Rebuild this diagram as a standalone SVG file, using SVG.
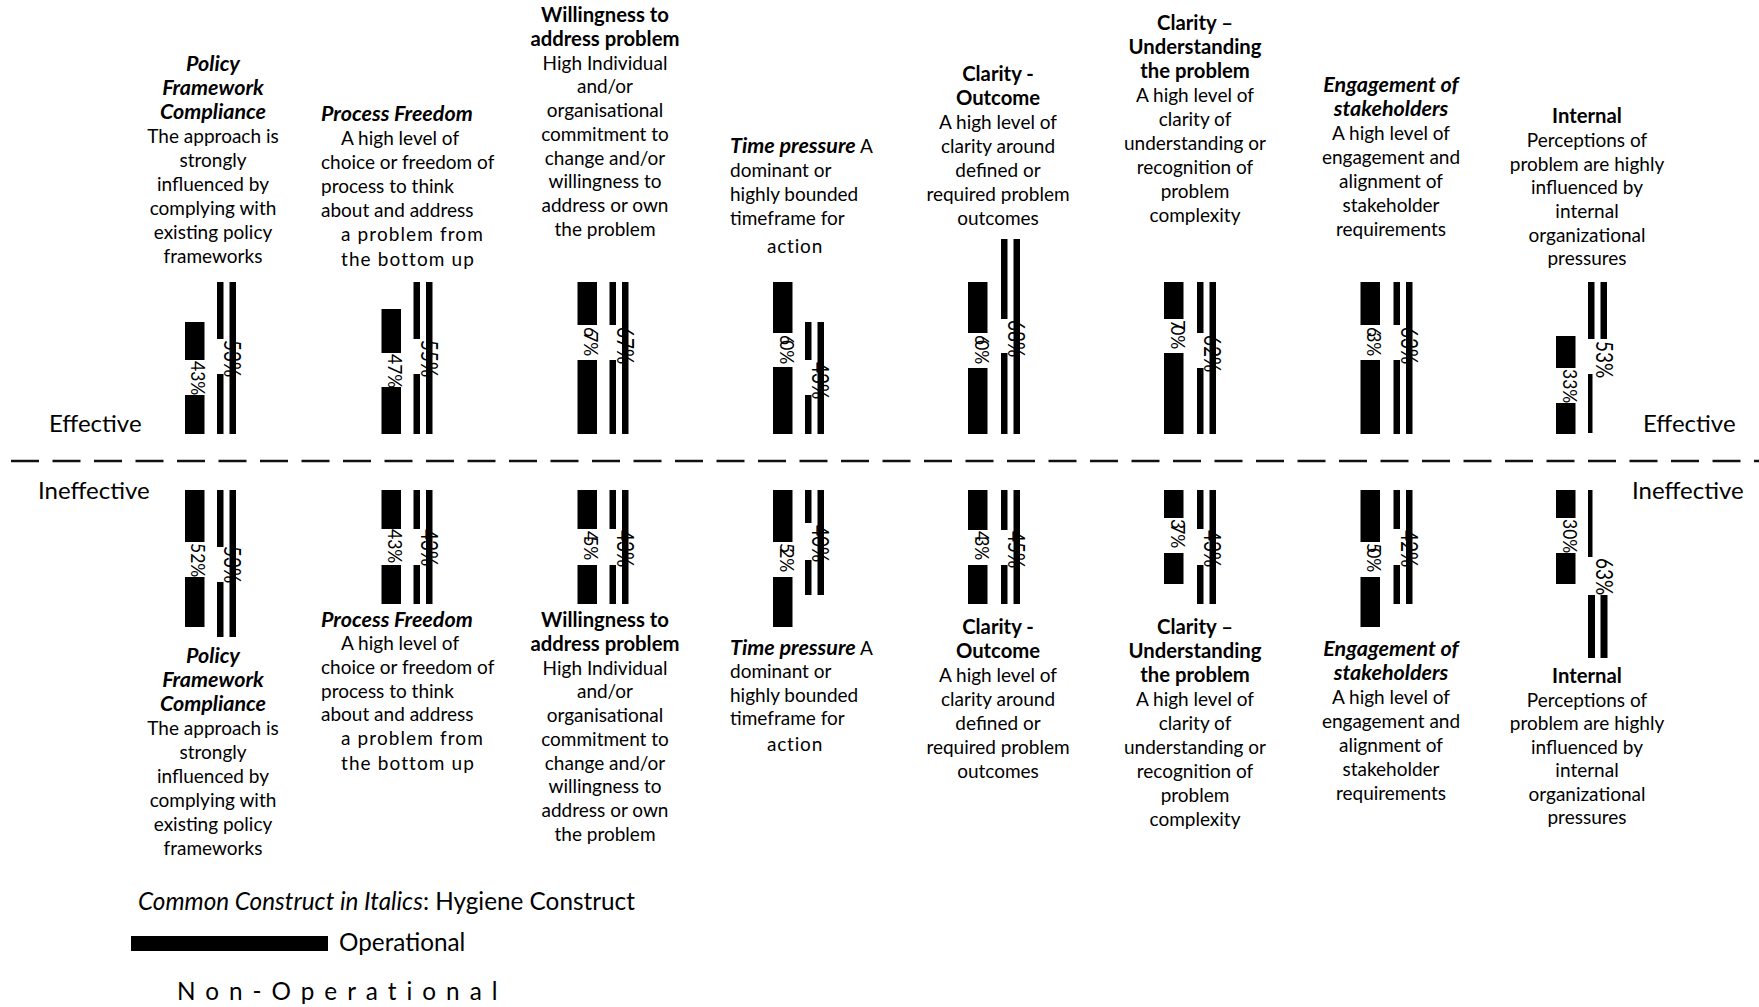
<svg xmlns="http://www.w3.org/2000/svg" width="1759" height="1007" viewBox="0 0 1759 1007">
  <style>
    .t { font-family: Lato, "Liberation Sans", sans-serif; font-size: 19px; fill: #000; }
    .c { text-anchor: middle; }
    .b { font-weight: 700; font-size: 20.3px; }
    .bi { font-weight: 700; font-style: italic; font-size: 21.5px; }
    .i { font-style: italic; }
    .sp { letter-spacing: 1.1px; }
    .sp2 { letter-spacing: 0.8px; }
    .pct { font-family: Lato, "Liberation Sans", sans-serif; font-size: 17.5px; fill: #000; }
    .pt { font-family: Lato, "Liberation Sans", sans-serif; font-size: 19px; fill: #000; }
    .side { font-family: Lato, "Liberation Sans", sans-serif; font-size: 24px; fill: #000; }
    .leg { font-family: Lato, "Liberation Sans", sans-serif; font-size: 24.3px; fill: #000; }
    rect { fill: #000; }
    .divider { stroke: #111; stroke-width: 2.6; stroke-dasharray: 28 13.5; fill: none; }
  </style>

  <!-- divider between effective and ineffective halves -->
  <g id="connectors">
    <line class="divider" x1="11" y1="461" x2="1759" y2="461"/>
  </g>

  <!-- side labels -->
  <g id="side-labels">
    <text class="side" x="49" y="432">Effective</text>
    <text class="side" x="38" y="499">Ineffective</text>
    <text class="side" x="1643" y="432">Effective</text>
    <text class="side" x="1632" y="499">Ineffective</text>
  </g>

  <!-- ===== Column 1: Policy Framework Compliance ===== -->
  <g id="eff-policy">
    <text class="t c bi" x="213" y="71">Policy</text>
    <text class="t c bi" x="213" y="95">Framework</text>
    <text class="t c bi" x="213" y="119">Compliance</text>
    <text class="t c" x="213" y="143">The approach is</text>
    <text class="t c" x="213" y="167">strongly</text>
    <text class="t c" x="213" y="191">influenced by</text>
    <text class="t c" x="213" y="215">complying with</text>
    <text class="t c" x="213" y="239">existing policy</text>
    <text class="t c" x="213" y="263">frameworks</text>
    <rect x="185" y="322" width="19.5" height="38"/>
    <rect x="185" y="395" width="19.5" height="39"/>
    <rect x="217" y="282" width="6.5" height="57"/>
    <rect x="217" y="374" width="6.5" height="60"/>
    <rect x="229.5" y="282" width="6.5" height="152"/>
    <text class="pct" transform="translate(191,361) rotate(90) scale(1,1.15)">43%</text>
    <text class="pt" transform="translate(224,340) rotate(90) scale(1,1.25)">53%</text>
  </g>
  <g id="ineff-policy">
    <rect x="185" y="490" width="19.5" height="52"/>
    <rect x="185" y="577" width="19.5" height="50"/>
    <rect x="217" y="490" width="6.5" height="57"/>
    <rect x="217" y="582" width="6.5" height="55"/>
    <rect x="229.5" y="490" width="6.5" height="147"/>
    <text class="pct" transform="translate(191,543) rotate(90) scale(1,1.15)">52%</text>
    <text class="pt" transform="translate(224,546) rotate(90) scale(1,1.25)">53%</text>
    <text class="t c bi" x="213" y="663">Policy</text>
    <text class="t c bi" x="213" y="687">Framework</text>
    <text class="t c bi" x="213" y="711">Compliance</text>
    <text class="t c" x="213" y="735">The approach is</text>
    <text class="t c" x="213" y="759">strongly</text>
    <text class="t c" x="213" y="783">influenced by</text>
    <text class="t c" x="213" y="807">complying with</text>
    <text class="t c" x="213" y="831">existing policy</text>
    <text class="t c" x="213" y="855">frameworks</text>
  </g>

  <!-- ===== Column 2: Process Freedom ===== -->
  <g id="eff-process">
    <text class="t bi" x="321" y="121">Process Freedom</text>
    <text class="t" x="341" y="145">A high level of</text>
    <text class="t" x="321" y="169">choice or freedom of</text>
    <text class="t" x="321" y="193">process to think</text>
    <text class="t" x="321" y="217">about and address</text>
    <text class="t sp" x="341" y="241">a problem from</text>
    <text class="t sp" x="341" y="266">the bottom up</text>
    <rect x="381.5" y="309" width="19.5" height="44"/>
    <rect x="381.5" y="387" width="19.5" height="47"/>
    <rect x="413.5" y="282" width="6.5" height="57"/>
    <rect x="413.5" y="374" width="6.5" height="60"/>
    <rect x="426" y="282" width="6.5" height="152"/>
    <text class="pct" transform="translate(387.5,354) rotate(90) scale(1,1.15)">47%</text>
    <text class="pt" transform="translate(420.5,340) rotate(90) scale(1,1.25)">55%</text>
  </g>
  <g id="ineff-process">
    <rect x="381.5" y="490" width="19.5" height="39"/>
    <rect x="381.5" y="565" width="19.5" height="39"/>
    <rect x="413.5" y="490" width="6.5" height="39"/>
    <rect x="413.5" y="565" width="6.5" height="39"/>
    <rect x="426" y="490" width="6.5" height="114"/>
    <text class="pct" transform="translate(387.5,529) rotate(90) scale(1,1.15)">43%</text>
    <text class="pt" transform="translate(420.5,529) rotate(90) scale(1,1.25)">43%</text>
    <text class="t bi" x="321" y="627">Process Freedom</text>
    <text class="t" x="341" y="650">A high level of</text>
    <text class="t" x="321" y="674">choice or freedom of</text>
    <text class="t" x="321" y="698">process to think</text>
    <text class="t" x="321" y="721">about and address</text>
    <text class="t sp" x="341" y="745">a problem from</text>
    <text class="t sp" x="341" y="770">the bottom up</text>
  </g>

  <!-- ===== Column 3: Willingness to address problem ===== -->
  <g id="eff-willingness">
    <text class="t c b" x="605" y="22">Willingness to</text>
    <text class="t c b" x="605" y="46">address problem</text>
    <text class="t c" x="605" y="70">High Individual</text>
    <text class="t c" x="605" y="93">and/or</text>
    <text class="t c" x="605" y="117">organisational</text>
    <text class="t c" x="605" y="141">commitment to</text>
    <text class="t c" x="605" y="165">change and/or</text>
    <text class="t c" x="605" y="188">willingness to</text>
    <text class="t c" x="605" y="212">address or own</text>
    <text class="t c" x="605" y="236">the problem</text>
    <rect x="577.5" y="282" width="19.5" height="43"/>
    <rect x="577.5" y="360" width="19.5" height="74"/>
    <rect x="609.5" y="282" width="6.5" height="43"/>
    <rect x="609.5" y="360" width="6.5" height="74"/>
    <rect x="622" y="282" width="6.5" height="152"/>
    <text class="pct" transform="translate(584,327) rotate(90) scale(1,1.15)">6<tspan dx="-5">7</tspan>%</text>
    <text class="pt" transform="translate(616.5,327) rotate(90) scale(1,1.25)">67%</text>
  </g>
  <g id="ineff-willingness">
    <rect x="577.5" y="490" width="19.5" height="39"/>
    <rect x="577.5" y="565" width="19.5" height="39"/>
    <rect x="609.5" y="490" width="6.5" height="39"/>
    <rect x="609.5" y="565" width="6.5" height="39"/>
    <rect x="622" y="490" width="6.5" height="114"/>
    <text class="pct" transform="translate(584,531) rotate(90) scale(1,1.15)">4<tspan dx="-5">5</tspan>%</text>
    <text class="pt" transform="translate(616.5,530) rotate(90) scale(1,1.25)">43%</text>
    <text class="t c b" x="605" y="627">Willingness to</text>
    <text class="t c b" x="605" y="651">address problem</text>
    <text class="t c" x="605" y="675">High Individual</text>
    <text class="t c" x="605" y="698">and/or</text>
    <text class="t c" x="605" y="722">organisational</text>
    <text class="t c" x="605" y="746">commitment to</text>
    <text class="t c" x="605" y="770">change and/or</text>
    <text class="t c" x="605" y="793">willingness to</text>
    <text class="t c" x="605" y="817">address or own</text>
    <text class="t c" x="605" y="841">the problem</text>
  </g>

  <!-- ===== Column 4: Time pressure ===== -->
  <g id="eff-time">
    <text class="t" x="730" y="153"><tspan class="bi">Time pressure</tspan> A</text>
    <text class="t" x="730" y="177">dominant or</text>
    <text class="t" x="730" y="201">highly bounded</text>
    <text class="t" x="730" y="225">timeframe for</text>
    <text class="t c sp2" x="795" y="253">action</text>
    <rect x="773" y="282" width="19.5" height="51"/>
    <rect x="773" y="367" width="19.5" height="67"/>
    <rect x="805" y="322" width="6.5" height="38"/>
    <rect x="805" y="395" width="6.5" height="39"/>
    <rect x="817.5" y="322" width="6.5" height="112"/>
    <text class="pct" transform="translate(779.5,335) rotate(90) scale(1,1.15)">6<tspan dx="-5">0</tspan>%</text>
    <text class="pt" transform="translate(812,362) rotate(90) scale(1,1.25)">43%</text>
  </g>
  <g id="ineff-time">
    <rect x="773" y="490" width="19.5" height="52"/>
    <rect x="773" y="577" width="19.5" height="50"/>
    <rect x="805" y="490" width="6.5" height="33"/>
    <rect x="805" y="560" width="6.5" height="35"/>
    <rect x="817.5" y="490" width="6.5" height="105"/>
    <text class="pct" transform="translate(779.5,543) rotate(90) scale(1,1.15)">5<tspan dx="-5">2</tspan>%</text>
    <text class="pt" transform="translate(812,525) rotate(90) scale(1,1.25)">40%</text>
    <text class="t" x="730" y="655"><tspan class="bi">Time pressure</tspan> A</text>
    <text class="t" x="730" y="678">dominant or</text>
    <text class="t" x="730" y="702">highly bounded</text>
    <text class="t" x="730" y="725">timeframe for</text>
    <text class="t c sp2" x="795" y="751">action</text>
  </g>

  <!-- ===== Column 5: Clarity - Outcome ===== -->
  <g id="eff-clarity-outcome">
    <text class="t c b" x="998" y="81">Clarity -</text>
    <text class="t c b" x="998" y="105">Outcome</text>
    <text class="t c" x="998" y="129">A high level of</text>
    <text class="t c" x="998" y="153">clarity around</text>
    <text class="t c" x="998" y="177">defined or</text>
    <text class="t c" x="998" y="201">required problem</text>
    <text class="t c" x="998" y="225">outcomes</text>
    <rect x="968" y="282" width="19.5" height="51"/>
    <rect x="968" y="368" width="19.5" height="66"/>
    <rect x="1001" y="239" width="6.5" height="80"/>
    <rect x="1001" y="353" width="6.5" height="81"/>
    <rect x="1013.5" y="239" width="6.5" height="195"/>
    <text class="pct" transform="translate(974.5,335) rotate(90) scale(1,1.15)">6<tspan dx="-5">0</tspan>%</text>
    <text class="pt" transform="translate(1008,320) rotate(90) scale(1,1.25)">68%</text>
  </g>
  <g id="ineff-clarity-outcome">
    <rect x="968" y="490" width="19.5" height="40"/>
    <rect x="968" y="565" width="19.5" height="39"/>
    <rect x="1001" y="490" width="6.5" height="40"/>
    <rect x="1001" y="565" width="6.5" height="39"/>
    <rect x="1013.5" y="490" width="6.5" height="114"/>
    <text class="pct" transform="translate(974.5,531) rotate(90) scale(1,1.15)">4<tspan dx="-5">3</tspan>%</text>
    <text class="pt" transform="translate(1008,531) rotate(90) scale(1,1.25)">45%</text>
    <text class="t c b" x="998" y="634">Clarity -</text>
    <text class="t c b" x="998" y="658">Outcome</text>
    <text class="t c" x="998" y="682">A high level of</text>
    <text class="t c" x="998" y="706">clarity around</text>
    <text class="t c" x="998" y="730">defined or</text>
    <text class="t c" x="998" y="754">required problem</text>
    <text class="t c" x="998" y="778">outcomes</text>
  </g>

  <!-- ===== Column 6: Clarity – Understanding the problem ===== -->
  <g id="eff-clarity-understanding">
    <text class="t c b" x="1195" y="30">Clarity –</text>
    <text class="t c b" x="1195" y="54">Understanding</text>
    <text class="t c b" x="1195" y="78">the problem</text>
    <text class="t c" x="1195" y="102">A high level of</text>
    <text class="t c" x="1195" y="126">clarity of</text>
    <text class="t c" x="1195" y="150">understanding or</text>
    <text class="t c" x="1195" y="174">recognition of</text>
    <text class="t c" x="1195" y="198">problem</text>
    <text class="t c" x="1195" y="222">complexity</text>
    <rect x="1164" y="282" width="19.5" height="37"/>
    <rect x="1164" y="353" width="19.5" height="81"/>
    <rect x="1197" y="282" width="6.5" height="51"/>
    <rect x="1197" y="368" width="6.5" height="66"/>
    <rect x="1209.5" y="282" width="6.5" height="152"/>
    <text class="pct" transform="translate(1170.5,320) rotate(90) scale(1,1.15)">7<tspan dx="-5">0</tspan>%</text>
    <text class="pt" transform="translate(1204,335) rotate(90) scale(1,1.25)">62%</text>
  </g>
  <g id="ineff-clarity-understanding">
    <rect x="1164" y="490" width="19.5" height="28"/>
    <rect x="1164" y="553" width="19.5" height="31"/>
    <rect x="1197" y="490" width="6.5" height="39"/>
    <rect x="1197" y="565" width="6.5" height="39"/>
    <rect x="1209.5" y="490" width="6.5" height="114"/>
    <text class="pct" transform="translate(1170.5,519) rotate(90) scale(1,1.15)">3<tspan dx="-5">7</tspan>%</text>
    <text class="pt" transform="translate(1204,530) rotate(90) scale(1,1.25)">43%</text>
    <text class="t c b" x="1195" y="634">Clarity –</text>
    <text class="t c b" x="1195" y="658">Understanding</text>
    <text class="t c b" x="1195" y="682">the problem</text>
    <text class="t c" x="1195" y="706">A high level of</text>
    <text class="t c" x="1195" y="730">clarity of</text>
    <text class="t c" x="1195" y="754">understanding or</text>
    <text class="t c" x="1195" y="778">recognition of</text>
    <text class="t c" x="1195" y="802">problem</text>
    <text class="t c" x="1195" y="826">complexity</text>
  </g>

  <!-- ===== Column 7: Engagement of stakeholders ===== -->
  <g id="eff-engagement">
    <text class="t c bi" x="1391" y="92">Engagement of</text>
    <text class="t c bi" x="1391" y="116">stakeholders</text>
    <text class="t c" x="1391" y="140">A high level of</text>
    <text class="t c" x="1391" y="164">engagement and</text>
    <text class="t c" x="1391" y="188">alignment of</text>
    <text class="t c" x="1391" y="212">stakeholder</text>
    <text class="t c" x="1391" y="236">requirements</text>
    <rect x="1360.5" y="282" width="19.5" height="43"/>
    <rect x="1360.5" y="360" width="19.5" height="74"/>
    <rect x="1393.5" y="282" width="6.5" height="43"/>
    <rect x="1393.5" y="360" width="6.5" height="74"/>
    <rect x="1406" y="282" width="6.5" height="152"/>
    <text class="pct" transform="translate(1367,327) rotate(90) scale(1,1.15)">6<tspan dx="-5">3</tspan>%</text>
    <text class="pt" transform="translate(1400.5,327) rotate(90) scale(1,1.25)">63%</text>
  </g>
  <g id="ineff-engagement">
    <rect x="1360.5" y="490" width="19.5" height="52"/>
    <rect x="1360.5" y="577" width="19.5" height="50"/>
    <rect x="1393.5" y="490" width="6.5" height="39"/>
    <rect x="1393.5" y="565" width="6.5" height="39"/>
    <rect x="1406" y="490" width="6.5" height="114"/>
    <text class="pct" transform="translate(1367,543) rotate(90) scale(1,1.15)">5<tspan dx="-5">0</tspan>%</text>
    <text class="pt" transform="translate(1400.5,530) rotate(90) scale(1,1.25)">42%</text>
    <text class="t c bi" x="1391" y="656">Engagement of</text>
    <text class="t c bi" x="1391" y="680">stakeholders</text>
    <text class="t c" x="1391" y="704">A high level of</text>
    <text class="t c" x="1391" y="728">engagement and</text>
    <text class="t c" x="1391" y="752">alignment of</text>
    <text class="t c" x="1391" y="776">stakeholder</text>
    <text class="t c" x="1391" y="800">requirements</text>
  </g>

  <!-- ===== Column 8: Internal ===== -->
  <g id="eff-internal">
    <text class="t c b" x="1587" y="123">Internal</text>
    <text class="t c" x="1587" y="147">Perceptions of</text>
    <text class="t c" x="1587" y="171">problem are highly</text>
    <text class="t c" x="1587" y="194">influenced by</text>
    <text class="t c" x="1587" y="218">internal</text>
    <text class="t c" x="1587" y="242">organizational</text>
    <text class="t c" x="1587" y="265">pressures</text>
    <rect x="1556" y="336" width="19.5" height="32"/>
    <rect x="1556" y="403" width="19.5" height="31"/>
    <rect x="1588" y="282" width="6.5" height="57"/>
    <rect x="1600.5" y="282" width="6.5" height="57"/>
    <rect x="1588" y="374" width="4.5" height="59"/>
    <text class="pct" transform="translate(1562.5,369) rotate(90) scale(1,1.15)">33%</text>
    <text class="pt" transform="translate(1596,341) rotate(90) scale(1,1.25)">53%</text>
  </g>
  <g id="ineff-internal">
    <rect x="1556" y="490" width="19.5" height="28"/>
    <rect x="1556" y="553" width="19.5" height="31"/>
    <rect x="1588" y="490" width="4.5" height="67"/>
    <rect x="1588" y="595" width="7" height="63"/>
    <rect x="1600.5" y="595" width="7" height="63"/>
    <text class="pct" transform="translate(1562.5,519) rotate(90) scale(1,1.15)">30%</text>
    <text class="pt" transform="translate(1596,558) rotate(90) scale(1,1.25)">63%</text>
    <text class="t c b" x="1587" y="683">Internal</text>
    <text class="t c" x="1587" y="707">Perceptions of</text>
    <text class="t c" x="1587" y="730">problem are highly</text>
    <text class="t c" x="1587" y="754">influenced by</text>
    <text class="t c" x="1587" y="777">internal</text>
    <text class="t c" x="1587" y="801">organizational</text>
    <text class="t c" x="1587" y="824">pressures</text>
  </g>

  <!-- legend -->
  <g id="legend">
    <text class="leg" x="138" y="910"><tspan class="i">Common Construct in Italics</tspan>: Hygiene Construct</text>
    <rect x="131" y="936" width="197" height="15"/>
    <text class="leg" x="339" y="951">Operational</text>
    <text class="leg" x="177" y="1000" style="letter-spacing:10px">Non-Operational</text>
  </g>
</svg>
